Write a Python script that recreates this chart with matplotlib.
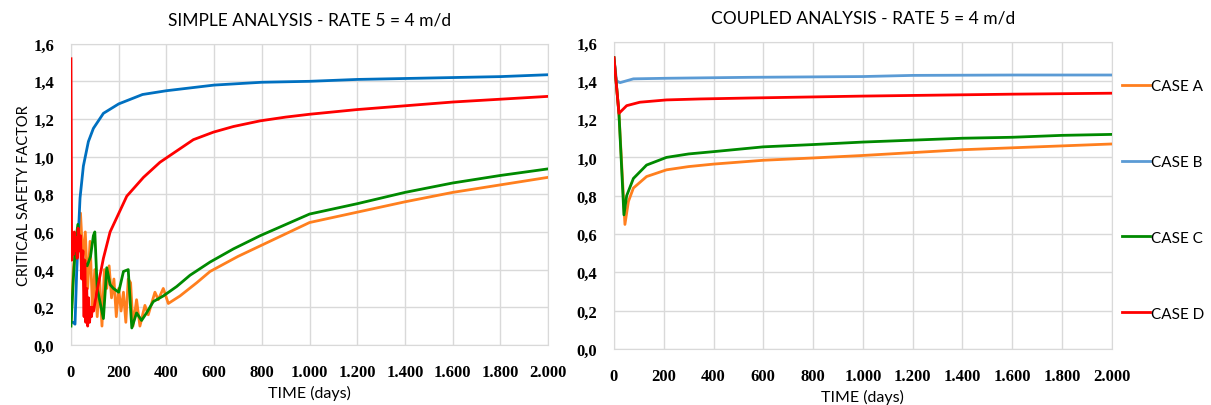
import matplotlib
matplotlib.use("Agg")
import matplotlib.pyplot as plt
from matplotlib.ticker import FuncFormatter, MultipleLocator

# ---------------- data ----------------
# SIMPLE ANALYSIS
sA_days = [0, 10, 20, 30, 40, 50, 60, 70, 80, 90, 100, 110, 120, 130, 140, 150, 160, 170, 180, 190,
           200, 210, 220, 230, 240, 250, 260, 275, 289, 310, 324, 352, 366, 387, 408, 457, 527, 583,
           700, 800, 1000, 1200, 1400, 1600, 1800, 2000]
sA_val = [0.12, 0.40, 0.55, 0.50, 0.70, 0.45, 0.60, 0.30, 0.55, 0.20, 0.40, 0.15, 0.35, 0.10, 0.40,
          0.30, 0.42, 0.25, 0.35, 0.15, 0.30, 0.18, 0.28, 0.12, 0.35, 0.33, 0.10, 0.24, 0.10, 0.21,
          0.16, 0.28, 0.24, 0.30, 0.22, 0.26, 0.33, 0.39, 0.47, 0.53, 0.65, 0.705, 0.76, 0.81, 0.85, 0.89]

sB_days = [0, 10, 17, 24, 38, 52, 73, 94, 136, 200, 300, 400, 600, 800, 1000, 1200, 1400, 1600, 1800, 2000]
sB_val = [0.12, 0.12, 0.11, 0.39, 0.78, 0.95, 1.08, 1.15, 1.23, 1.28, 1.33, 1.35, 1.38, 1.395, 1.40,
          1.41, 1.415, 1.42, 1.425, 1.435]

sC_days = [0, 10, 20, 29, 40, 55, 68, 82, 94, 100, 110, 136, 150, 164, 178, 200, 220, 240, 255, 275,
           296, 317, 345, 387, 443, 499, 583, 681, 793, 1000, 1200, 1400, 1600, 1800, 2000]
sC_val = [0.10, 0.35, 0.55, 0.64, 0.50, 0.44, 0.42, 0.47, 0.58, 0.60, 0.30, 0.14, 0.41, 0.32, 0.30,
          0.28, 0.39, 0.40, 0.09, 0.17, 0.13, 0.17, 0.23, 0.26, 0.31, 0.37, 0.44, 0.51, 0.58, 0.695,
          0.75, 0.81, 0.86, 0.90, 0.935]

sD_days = [0, 3, 6, 10, 14, 18, 22, 26, 30, 34, 40, 45, 50, 55, 58, 62, 66, 70, 74, 78, 82, 86, 90,
           95, 100, 108, 136, 164, 234, 304, 373, 443, 513, 597, 681, 793, 900, 1000, 1200, 1400,
           1600, 1800, 2000]
sD_val = [1.52, 0.45, 0.58, 0.48, 0.60, 0.50, 0.57, 0.46, 0.62, 0.50, 0.58, 0.35, 0.50, 0.15, 0.45,
          0.12, 0.30, 0.10, 0.25, 0.12, 0.20, 0.15, 0.20, 0.18, 0.22, 0.28, 0.46, 0.60, 0.79, 0.89,
          0.97, 1.03, 1.09, 1.13, 1.16, 1.19, 1.21, 1.225, 1.25, 1.27, 1.29, 1.305, 1.32]

# COUPLED ANALYSIS
cA_days = [0, 20, 44, 58, 78, 131, 211, 300, 400, 600, 800, 1000, 1200, 1400, 1600, 1800, 2000]
cA_val = [1.52, 1.23, 0.65, 0.77, 0.84, 0.90, 0.935, 0.952, 0.965, 0.985, 0.997, 1.01, 1.025, 1.04,
          1.05, 1.06, 1.07]

cB_days = [0, 10, 24, 78, 211, 546, 1000, 1200, 1600, 2000]
cB_val = [1.52, 1.40, 1.39, 1.41, 1.413, 1.418, 1.422, 1.428, 1.43, 1.43]

cC_days = [0, 20, 40, 51, 78, 131, 211, 300, 400, 600, 800, 1000, 1200, 1400, 1600, 1800, 2000]
cC_val = [1.52, 1.23, 0.70, 0.80, 0.89, 0.96, 1.00, 1.018, 1.03, 1.055, 1.067, 1.08, 1.09, 1.10,
          1.105, 1.115, 1.12]

cD_days = [0, 20, 51, 104, 211, 345, 546, 1000, 1600, 2000]
cD_val = [1.52, 1.23, 1.27, 1.288, 1.30, 1.305, 1.31, 1.32, 1.33, 1.335]

labels = ["CASE A", "CASE B", "CASE C", "CASE D"]
colors_left = ["#FF7F1E", "#0070C0", "#008A00", "#FF0000"]
colors_right = ["#FF7F1E", "#5B9BD5", "#008A00", "#FF0000"]

# ---------------- plot ----------------
fig = plt.figure(figsize=(12.11, 4.06), dpi=100)
ax1 = fig.add_axes([0.0586, 0.148, 0.394, 0.742])
ax2 = fig.add_axes([0.507, 0.138, 0.411, 0.755])

tick_font = dict(family="Liberation Serif", weight="bold", size=12)
lab_font = dict(family="Lato", size=11.5)
title_font = dict(family="Lato", size=12.5)

def ytick(v, pos):
    return f"{v:.1f}".replace(".", ",")

def xtick(v, pos):
    return f"{int(round(v)):,}".replace(",", ".")

left_series = [(sA_days, sA_val), (sB_days, sB_val), (sC_days, sC_val), (sD_days, sD_val)]
right_series = [(cA_days, cA_val), (cB_days, cB_val), (cC_days, cC_val), (cD_days, cD_val)]

order = [1, 0, 2, 3]
handles = [None] * 4
for ax, series, cols in ((ax1, left_series, colors_left), (ax2, right_series, colors_right)):
    for i in order:
        d, v = series[i]
        ln, = ax.plot(d, v, color=cols[i], lw=2.0, solid_joinstyle="round", zorder=3 + i)
        if ax is ax2:
            handles[i] = ln
    ax.set_xlim(0, 2000)
    ax.set_ylim(0, 1.6)
    ax.xaxis.set_major_locator(MultipleLocator(200))
    ax.yaxis.set_major_locator(MultipleLocator(0.2))
    ax.xaxis.set_major_formatter(FuncFormatter(xtick))
    ax.yaxis.set_major_formatter(FuncFormatter(ytick))
    ax.grid(True, color="#D9D9D9", lw=1.0, zorder=0)
    for s in ax.spines.values():
        s.set_color("#D9D9D9")
    ax.tick_params(axis="x", length=0, pad=14)
    ax.tick_params(axis="y", length=0, pad=12)
    for t in ax.get_xticklabels() + ax.get_yticklabels():
        t.set_fontfamily(tick_font["family"])
        t.set_fontweight(tick_font["weight"])
        t.set_fontsize(tick_font["size"])
    ax.set_xlabel("TIME (days)", labelpad=3, **lab_font)

ax1.set_ylabel("CRITICAL SAFETY FACTOR", labelpad=2, family="Lato", size=10.5)
ax1.set_title("SIMPLE ANALYSIS - RATE 5 = 4 m/d", pad=14, **title_font)
ax2.set_title("COUPLED ANALYSIS - RATE 5 = 4 m/d", pad=14, **title_font)

fig.legend(handles, labels, loc="upper left", bbox_to_anchor=(0.9265, 0.803),
           frameon=False, prop=dict(family="Lato", size=11), handlelength=1.83,
           handletextpad=0.1, labelspacing=4.05, borderaxespad=0, borderpad=0)

fig.savefig("out.png", dpi=100)
